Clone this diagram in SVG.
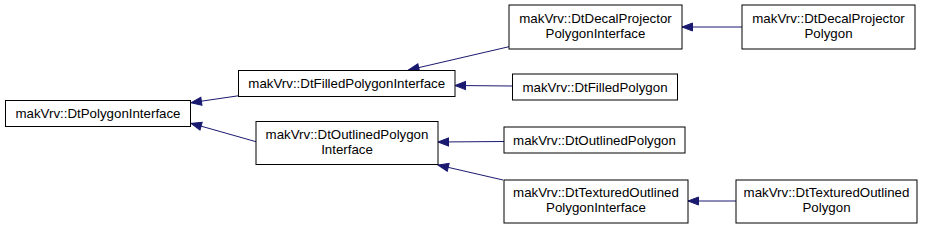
<svg xmlns="http://www.w3.org/2000/svg" width="927" height="228" viewBox="0 0 927 228">
<style>
.box{fill:#ffffff;stroke:#000000;stroke-width:1}
text{font-family:"Liberation Sans",Arial,sans-serif;font-size:13.3px;fill:#000000;text-anchor:middle}
.edge{stroke:#191970;stroke-width:1;fill:none;marker-end:url(#arr)}
</style>
<defs>
<marker id="arr" markerUnits="userSpaceOnUse" markerWidth="14" markerHeight="12" refX="11" refY="5" orient="auto" overflow="visible">
<path d="M0.5,1 L11,5 L0.5,9 Z" fill="#191970" stroke="#191970" stroke-width="1"/>
</marker>
</defs>
<rect width="927" height="228" fill="#ffffff"/>
<g id="connectors">
<line class="edge" x1="239" y1="95.7" x2="191" y2="102.7"/>
<line class="edge" x1="256" y1="141.7" x2="191" y2="123.3"/>
<line class="edge" x1="509" y1="46.7" x2="408.5" y2="70"/>
<line class="edge" x1="512.5" y1="86" x2="455" y2="85.5"/>
<line class="edge" x1="742" y1="27" x2="682" y2="27"/>
<line class="edge" x1="504" y1="141.5" x2="438" y2="142"/>
<line class="edge" x1="503" y1="180" x2="438" y2="165"/>
<line class="edge" x1="736" y1="201" x2="688" y2="201"/>
</g>
<g id="n1"><rect class="box" x="5.5" y="100.5" width="185" height="26"/><text x="98" y="118">makVrv::DtPolygonInterface</text></g>
<g id="n2"><rect class="box" x="238.5" y="70.5" width="216.5" height="26"/><text x="346.75" y="88">makVrv::DtFilledPolygonInterface</text></g>
<g id="n3"><rect class="box" x="256" y="121.5" width="182" height="43"/><text x="347" y="138.5">makVrv::DtOutlinedPolygon</text><text x="347" y="153.5">Interface</text></g>
<g id="n4"><rect class="box" x="509" y="5" width="173" height="44"/><text x="595.5" y="22.5">makVrv::DtDecalProjector</text><text x="595.5" y="37.5">PolygonInterface</text></g>
<g id="n5"><rect class="box" x="742" y="5" width="173" height="44"/><text x="828.5" y="22.5">makVrv::DtDecalProjector</text><text x="828.5" y="37.5">Polygon</text></g>
<g id="n6"><rect class="box" x="512.5" y="74" width="165" height="26"/><text x="595" y="91.5">makVrv::DtFilledPolygon</text></g>
<g id="n7"><rect class="box" x="504" y="127" width="181" height="26"/><text x="594.5" y="144.5">makVrv::DtOutlinedPolygon</text></g>
<g id="n8"><rect class="box" x="504" y="180" width="184" height="43"/><text x="596" y="197">makVrv::DtTexturedOutlined</text><text x="596" y="212">PolygonInterface</text></g>
<g id="n9"><rect class="box" x="736" y="180" width="181" height="43"/><text x="826.5" y="197">makVrv::DtTexturedOutlined</text><text x="826.5" y="212">Polygon</text></g>
</svg>
